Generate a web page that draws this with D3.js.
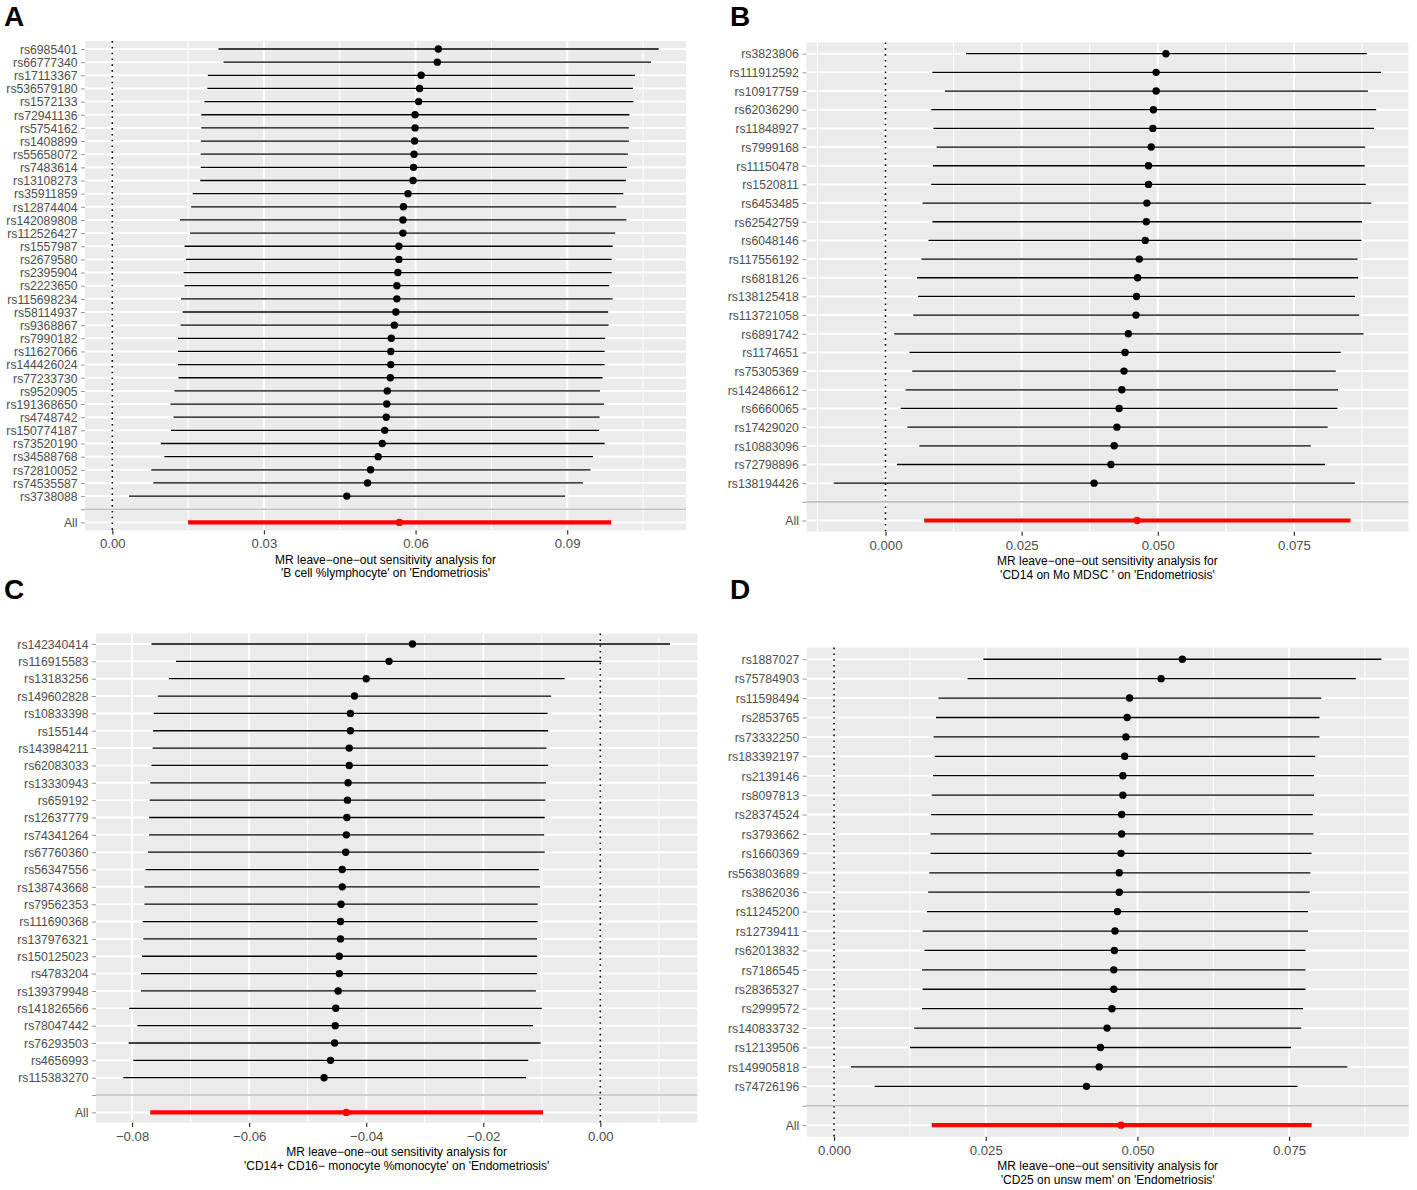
<!DOCTYPE html>
<html>
<head>
<meta charset="utf-8">
<script src="https://cdn.jsdelivr.net/npm/d3@7"></script>
<style>
body { margin: 0; background: #fff; }
svg text { font-family: "Liberation Sans", Arial, Helvetica, sans-serif; }
</style>
</head>
<body>
<div id="chart"></div>
<script>
// Panel A: 'B cell %lymphocyte'
var snpsA = ["rs6985401", "rs66777340", "rs17113367", "rs536579180", "rs1572133", "rs72941136", "rs5754162",
    "rs1408899", "rs55658072", "rs7483614", "rs13108273", "rs35911859", "rs12874404", "rs142089808",
    "rs112526427", "rs1557987", "rs2679580", "rs2395904", "rs2223650", "rs115698234", "rs58114937",
    "rs9368867", "rs7990182", "rs11627066", "rs144426024", "rs77233730", "rs9520905", "rs191368650",
    "rs4748742", "rs150774187", "rs73520190", "rs34588768", "rs72810052", "rs74535587", "rs3738088"];
var bA = [0.0645, 0.0643, 0.0611, 0.0608, 0.0606, 0.0599, 0.0599, 0.0598, 0.0597, 0.0596, 0.0595, 0.0585,
    0.0576, 0.0575, 0.0575, 0.0567, 0.0567, 0.0565, 0.0563, 0.0563, 0.0561, 0.0558, 0.0552, 0.0551, 0.0551,
    0.0550, 0.0544, 0.0543, 0.0542, 0.0539, 0.0534, 0.0526, 0.0511, 0.0505, 0.0464];
var loA = [0.0210, 0.0220, 0.0189, 0.0188, 0.0182, 0.0176, 0.0176, 0.0175, 0.0175, 0.0175, 0.0174, 0.0159,
    0.0156, 0.0134, 0.0154, 0.0143, 0.0146, 0.0141, 0.0143, 0.0136, 0.0139, 0.0135, 0.0130, 0.0130, 0.0130,
    0.0131, 0.0123, 0.0115, 0.0121, 0.0116, 0.0096, 0.0103, 0.0077, 0.0081, 0.0033];
var hiA = [0.1081, 0.1066, 0.1034, 0.1030, 0.1031, 0.1023, 0.1022, 0.1022, 0.1020, 0.1018, 0.1016, 0.1011,
    0.0997, 0.1017, 0.0995, 0.0990, 0.0988, 0.0988, 0.0983, 0.0990, 0.0981, 0.0982, 0.0975, 0.0974, 0.0974,
    0.0970, 0.0965, 0.0973, 0.0964, 0.0963, 0.0974, 0.0951, 0.0946, 0.0931, 0.0896];
var allA = [0.0568, 0.0150, 0.0987];   // b, lo, hi
var ticksA = [0, 0.03, 0.06, 0.09];

// Panel B: 'CD14 on Mo MDSC '
var snpsB = ["rs3823806", "rs111912592", "rs10917759", "rs62036290", "rs11848927", "rs7999168", "rs11150478",
    "rs1520811", "rs6453485", "rs62542759", "rs6048146", "rs117556192", "rs6818126", "rs138125418",
    "rs113721058", "rs6891742", "rs1174651", "rs75305369", "rs142486612", "rs6660065", "rs17429020",
    "rs10883096", "rs72798896", "rs138194426"];
var bB = [0.0515, 0.0497, 0.0497, 0.0492, 0.0491, 0.0488, 0.0483, 0.0483, 0.0480, 0.0479, 0.0477, 0.0466,
    0.0463, 0.0461, 0.0460, 0.0446, 0.0440, 0.0438, 0.0434, 0.0429, 0.0425, 0.0420, 0.0414, 0.0383];
var loB = [0.0148, 0.0086, 0.0109, 0.0084, 0.0088, 0.0094, 0.0087, 0.0084, 0.0068, 0.0086, 0.0079, 0.0066,
    0.0058, 0.0060, 0.0051, 0.0016, 0.0044, 0.0049, 0.0037, 0.0028, 0.0040, 0.0062, 0.0021, -0.0095];
var hiB = [0.0884, 0.0910, 0.0886, 0.0901, 0.0897, 0.0881, 0.0880, 0.0882, 0.0892, 0.0875, 0.0874, 0.0867,
    0.0868, 0.0862, 0.0870, 0.0878, 0.0836, 0.0827, 0.0831, 0.0830, 0.0812, 0.0781, 0.0807, 0.0862];
var allB = [0.0462, 0.0071, 0.0854];
var ticksB = [0, 0.025, 0.05, 0.075];

// Panel C: 'CD14+ CD16- monocyte %monocyte'
var snpsC = ["rs142340414", "rs116915583", "rs13183256", "rs149602828", "rs10833398", "rs155144",
    "rs143984211", "rs62083033", "rs13330943", "rs659192", "rs12637779", "rs74341264", "rs67760360",
    "rs56347556", "rs138743668", "rs79562353", "rs111690368", "rs137976321", "rs150125023", "rs4783204",
    "rs139379948", "rs141826566", "rs78047442", "rs76293503", "rs4656993", "rs115383270"];
var bC = [-0.0321, -0.0361, -0.0400, -0.0420, -0.0427, -0.0427, -0.0429, -0.0429, -0.0431, -0.0432, -0.0433,
    -0.0434, -0.0435, -0.0441, -0.0441, -0.0443, -0.0444, -0.0444, -0.0446, -0.0446, -0.0448, -0.0452,
    -0.0453, -0.0454, -0.0461, -0.0472];
var loC = [-0.0767, -0.0725, -0.0737, -0.0756, -0.0763, -0.0764, -0.0765, -0.0767, -0.0769, -0.0770, -0.0771,
    -0.0771, -0.0773, -0.0777, -0.0779, -0.0779, -0.0782, -0.0781, -0.0783, -0.0785, -0.0785, -0.0805,
    -0.0791, -0.0806, -0.0798, -0.0815];
var hiC = [0.0119, 0.0002, -0.0061, -0.0084, -0.0090, -0.0089, -0.0092, -0.0089, -0.0093, -0.0094, -0.0095,
    -0.0096, -0.0095, -0.0105, -0.0103, -0.0107, -0.0107, -0.0108, -0.0108, -0.0108, -0.0110, -0.0100,
    -0.0115, -0.0102, -0.0123, -0.0127];
var allC = [-0.0434, -0.0769, -0.0098];
var ticksC = [-0.08, -0.06, -0.04, -0.02, 0];

// Panel D: 'CD25 on unsw mem'
var snpsD = ["rs1887027", "rs75784903", "rs11598494", "rs2853765", "rs73332250", "rs183392197", "rs2139146",
    "rs8097813", "rs28374524", "rs3793662", "rs1660369", "rs563803689", "rs3862036", "rs11245200",
    "rs12739411", "rs62013832", "rs7186545", "rs28365327", "rs2999572", "rs140833732", "rs12139506",
    "rs149905818", "rs74726196"];
var bD = [0.0574, 0.0539, 0.0487, 0.0483, 0.0481, 0.0479, 0.0476, 0.0476, 0.0474, 0.0474, 0.0473, 0.0470,
    0.0470, 0.0467, 0.0463, 0.0462, 0.0461, 0.0461, 0.0458, 0.0450, 0.0439, 0.0437, 0.0416];
var loD = [0.0246, 0.0220, 0.0172, 0.0168, 0.0164, 0.0166, 0.0163, 0.0161, 0.0160, 0.0159, 0.0159, 0.0157,
    0.0155, 0.0153, 0.0146, 0.0149, 0.0145, 0.0146, 0.0145, 0.0132, 0.0125, 0.0028, 0.0067];
var hiD = [0.0902, 0.0860, 0.0803, 0.0800, 0.0800, 0.0793, 0.0791, 0.0791, 0.0789, 0.0790, 0.0787, 0.0785,
    0.0784, 0.0781, 0.0781, 0.0777, 0.0777, 0.0777, 0.0773, 0.0770, 0.0753, 0.0846, 0.0764];
var allD = [0.0473, 0.0161, 0.0787];
var ticksD = [0, 0.025, 0.05, 0.075];

var titleLine1 = "MR leave\u2212one\u2212out sensitivity analysis for";
var exposures = ["'B cell %lymphocyte'", "'CD14 on Mo MDSC '", "'CD14+ CD16\u2212 monocyte %monocyte'", "'CD25 on unsw mem'"];
var outcome = "'Endometriosis'";

var svg = d3.select("#chart")
    .append("svg")
    .attr("width", 1417)
    .attr("height", 1190)
    .style("background", "#fff");

function fmtMinus(f) {
    return function (d) { return f(d).replace("-", "\u2212"); };
}

// one leave-one-out panel, ggplot theme_grey look
function drawPanel(p) {
    var levels = p.snps.concat(["", "All"]);
    var rows = p.snps.map(function (s, i) {
        return {snp: s, b: p.b[i], lo: p.lo[i], hi: p.hi[i], tot: false};
    });
    rows.push({snp: "All", b: p.all[0], lo: p.all[1], hi: p.all[2], tot: true});

    // x limits like ggplot: data range (vline at 0 included) + 5%
    var ext = d3.extent(p.lo.concat(p.hi, [p.all[1], p.all[2], 0]));
    var pad = (ext[1] - ext[0]) * 0.05;
    var x = d3.scaleLinear().domain([ext[0] - pad, ext[1] + pad]).range([0, p.width]);
    var y = d3.scalePoint().domain(levels).range([0, p.height]).padding(0.6);

    var step = p.ticks[1] - p.ticks[0];
    var minor = [];
    for (var i = -1; i < p.ticks.length; i++) {
        var m = p.ticks[0] + (i + 0.5) * step;
        if (m >= x.domain()[0] && m <= x.domain()[1]) minor.push(m);
    }

    var g = svg.append("g")
        .attr("transform", "translate(" + p.left + "," + p.top + ")");

    g.append("rect")
        .attr("width", p.width)
        .attr("height", p.height)
        .attr("fill", "#EBEBEB");

    // grid
    g.append("g").selectAll("line").data(minor).enter().append("line")
        .attr("x1", function (d) { return x(d); }).attr("x2", function (d) { return x(d); })
        .attr("y1", 0).attr("y2", p.height)
        .attr("stroke", "#fff").attr("stroke-width", 1);
    g.append("g").selectAll("line").data(p.ticks).enter().append("line")
        .attr("x1", function (d) { return x(d); }).attr("x2", function (d) { return x(d); })
        .attr("y1", 0).attr("y2", p.height)
        .attr("stroke", "#fff").attr("stroke-width", 2);
    g.append("g").selectAll("line").data(levels).enter().append("line")
        .attr("x1", 0).attr("x2", p.width)
        .attr("y1", function (d) { return y(d); }).attr("y2", function (d) { return y(d); })
        .attr("stroke", "#fff").attr("stroke-width", 2);

    // dotted zero line
    g.append("line")
        .attr("x1", x(0)).attr("x2", x(0))
        .attr("y1", 0).attr("y2", p.height)
        .attr("stroke", "#000")
        .attr("stroke-width", 1.6)
        .attr("stroke-dasharray", "1.6,4.2");

    // CI bars
    g.append("g").selectAll("line").data(rows).enter().append("line")
        .attr("x1", function (d) { return x(d.lo); })
        .attr("x2", function (d) { return x(d.hi); })
        .attr("y1", function (d) { return y(d.snp); })
        .attr("y2", function (d) { return y(d.snp); })
        .attr("stroke", function (d) { return d.tot ? "#FF0000" : "#000"; })
        .attr("stroke-width", function (d) { return d.tot ? 4.2 : 1.3; });

    // estimates
    g.append("g").selectAll("circle").data(rows).enter().append("circle")
        .attr("cx", function (d) { return x(d.b); })
        .attr("cy", function (d) { return y(d.snp); })
        .attr("r", 3.7)
        .attr("fill", function (d) { return d.tot ? "#FF0000" : "#000"; });

    // separator at the blank level
    g.append("line")
        .attr("x1", 0).attr("x2", p.width)
        .attr("y1", y("")).attr("y2", y(""))
        .attr("stroke", "#BEBEBE")
        .attr("stroke-width", 1.6);

    // axes
    var xAxis = g.append("g")
        .attr("transform", "translate(0," + p.height + ")")
        .call(d3.axisBottom(x).tickValues(p.ticks).tickSize(4.1).tickPadding(4.7)
            .tickFormat(fmtMinus(d3.format(p.fmt))));
    xAxis.select(".domain").remove();
    xAxis.selectAll("line").attr("stroke", "#333333").attr("stroke-width", 1.2);
    xAxis.selectAll("text").attr("fill", "#4D4D4D").style("font-size", "13.2px");

    var yAxis = g.append("g")
        .call(d3.axisLeft(y).tickSize(4.1).tickPadding(3.4));
    yAxis.select(".domain").remove();
    yAxis.selectAll("line").attr("stroke", "#333333").attr("stroke-width", 0.5);
    yAxis.selectAll("text").attr("fill", "#4D4D4D").style("font-size", "12.2px").attr("dy", "0.35em");

    // x title
    var title = g.append("text")
        .attr("text-anchor", "middle")
        .attr("fill", "#000")
        .style("font-size", "12px");
    title.append("tspan").attr("x", p.width / 2).attr("y", p.height + 33.5).text(p.title[0]);
    title.append("tspan").attr("x", p.width / 2).attr("y", p.height + 47).text(p.title[1]);

    // panel letter
    svg.append("text")
        .attr("x", p.letterX)
        .attr("y", p.letterY)
        .attr("fill", "#000")
        .style("font-size", "28px")
        .style("font-weight", "bold")
        .text(p.letter);
}

drawPanel({letter: "A", letterX: 4, letterY: 26, left: 85, top: 41.1, width: 601, height: 489.2,
    snps: snpsA, b: bA, lo: loA, hi: hiA, all: allA, ticks: ticksA, fmt: ".2f",
    title: [titleLine1, exposures[0] + " on " + outcome]});
drawPanel({letter: "B", letterX: 730, letterY: 26, left: 806.4, top: 42.5, width: 602, height: 489.2,
    snps: snpsB, b: bB, lo: loB, hi: hiB, all: allB, ticks: ticksB, fmt: ".3f",
    title: [titleLine1, exposures[1] + " on " + outcome]});
drawPanel({letter: "C", letterX: 4, letterY: 599, left: 96, top: 633.6, width: 601.3, height: 489.2,
    snps: snpsC, b: bC, lo: loC, hi: hiC, all: allC, ticks: ticksC, fmt: ".2f",
    title: [titleLine1, exposures[2] + " on " + outcome]});
drawPanel({letter: "D", letterX: 730, letterY: 599, left: 806.7, top: 647.6, width: 602, height: 489.2,
    snps: snpsD, b: bD, lo: loD, hi: hiD, all: allD, ticks: ticksD, fmt: ".3f",
    title: [titleLine1, exposures[3] + " on " + outcome]});
</script>
</body>
</html>
